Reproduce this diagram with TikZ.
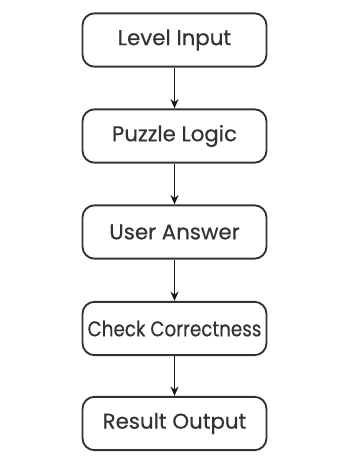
\documentclass[tikz,border=0pt]{standalone}
\usepackage{graphicx}
\usepackage{fontspec}
\newfontfamily\boxfont{Poppins}[FakeBold=0.4]
\usetikzlibrary{arrows.meta}

\begin{document}
\begin{tikzpicture}[x=0.75pt, y=-0.75pt]
\useasboundingbox (0, 0) rectangle (340, 470);

\coordinate (S1) at (174.5, 40);
\coordinate (S2) at (174.5, 136);
\coordinate (S3) at (174.5, 232);
\coordinate (S4) at (174.5, 328.5);
\coordinate (S5) at (174.5, 423.5);


\tikzset{BoxStyle/.style = {
 shape = rectangle,
 rounded corners = 9pt,
 draw = black!80,
 line width = 1.4pt,
 fill = white,
 text = black!80,
 inner sep = 2pt,
 minimum width = 138pt,
 minimum height = 40pt,
 font = \boxfont\fontsize{16}{18}\selectfont} }

\node[BoxStyle] (N1) at (S1) {Level Input};
\node[BoxStyle] (N2) at (S2) {Puzzle Logic};
\node[BoxStyle] (N3) at (S3) {User Answer};
\node[BoxStyle] (N4) at (S4) {\scalebox{0.86}[1]{Check Correctness}};
\node[BoxStyle] (N5) at (S5) {Result Output};


\tikzset{ArrowStyle/.style = {line width=1.25pt, draw=black!90, -{Stealth[length=7pt, width=6pt]}} }

\draw[ArrowStyle] (N1) -- (N2);
\draw[ArrowStyle] (N2) -- (N3);
\draw[ArrowStyle] (N3) -- (N4);
\draw[ArrowStyle] (N4) -- (N5);

\end{tikzpicture}
\end{document}
